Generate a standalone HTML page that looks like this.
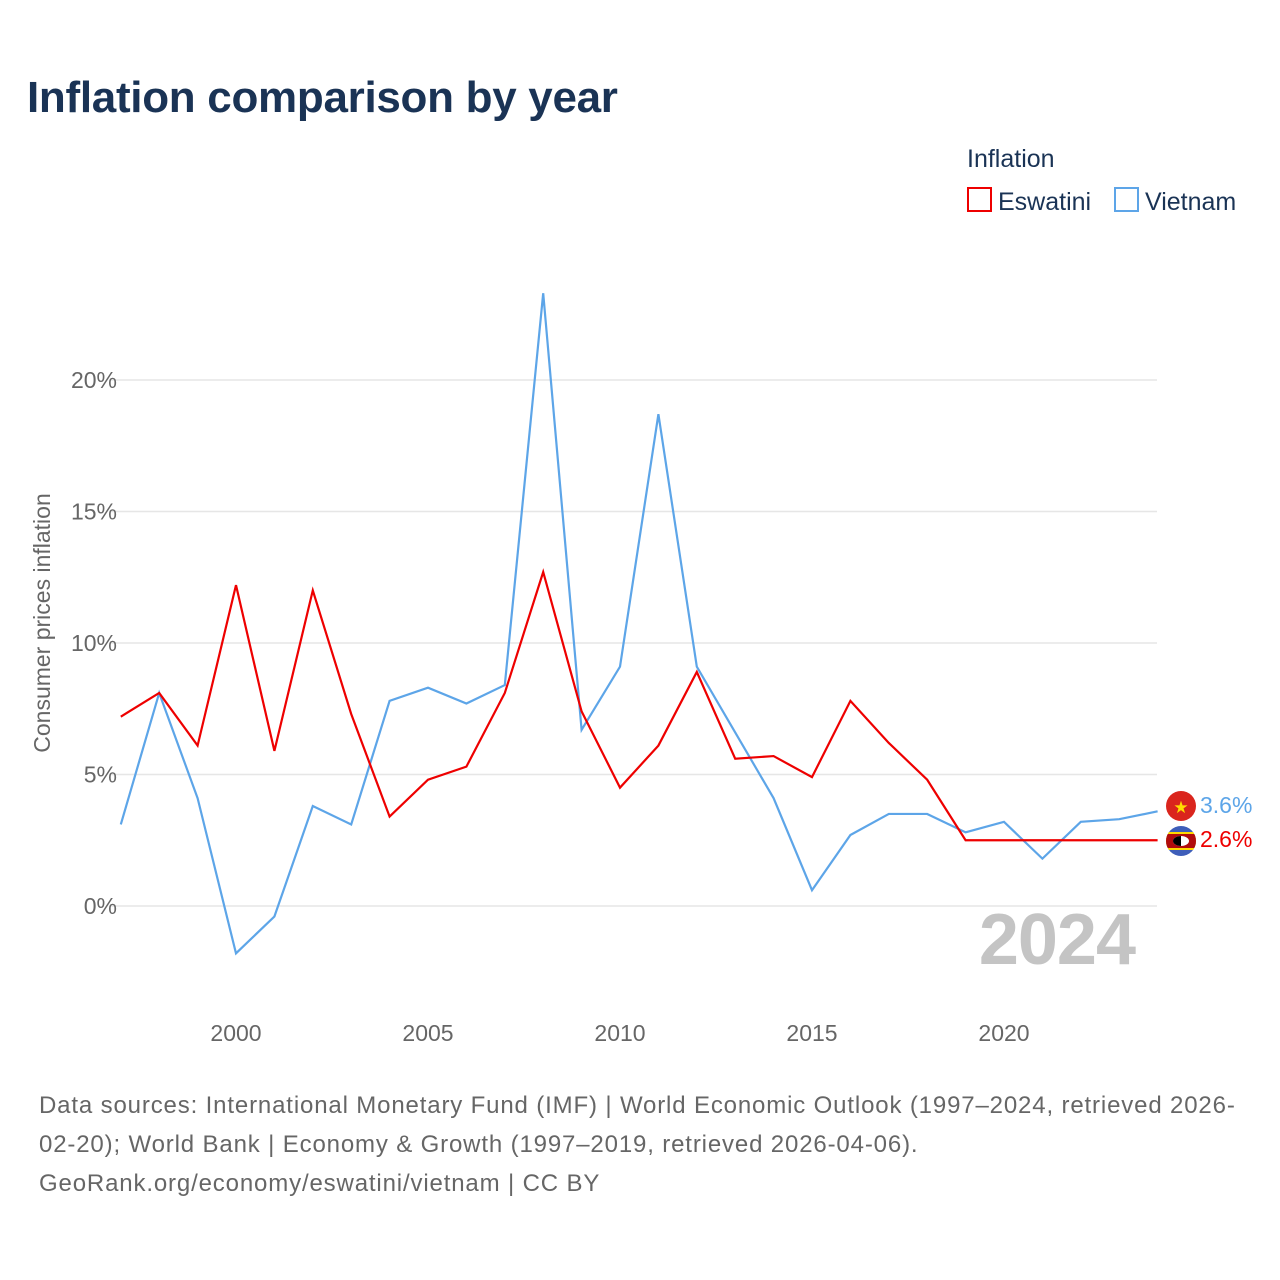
<!DOCTYPE html>
<html><head><meta charset="utf-8"><style>
body{margin:0;background:#fff;font-family:"Liberation Sans",sans-serif;}
#wrap{position:relative;width:1280px;height:1280px;overflow:hidden;}
</style></head><body>
<div id="wrap">
<svg id="chart" width="1280" height="1280" xmlns="http://www.w3.org/2000/svg">
<text x="27" y="112" font-size="44" font-weight="bold" fill="#1a3355" letter-spacing="-0.3">Inflation comparison by year</text>
<text x="967" y="167" font-size="25" fill="#1a3355">Inflation</text>
<g><rect x="968" y="188" width="23" height="23" fill="none" stroke="#ee0000" stroke-width="2"/><text x="998" y="210" font-size="25" fill="#1a3355">Eswatini</text></g>
<g><rect x="1115" y="188" width="23" height="23" fill="none" stroke="#5da5e8" stroke-width="2"/><text x="1145" y="210" font-size="25" fill="#1a3355">Vietnam</text></g>
<g id="grid"></g><g id="xticks"></g><g id="series"></g>
<text transform="translate(50,623) rotate(-90)" text-anchor="middle" font-size="23" fill="#666">Consumer prices inflation</text>
<text x="1135" y="964" text-anchor="end" font-size="72" font-weight="bold" fill="#c4c4c4" letter-spacing="-1">2024</text>
<g><circle cx="1181" cy="806" r="15" fill="#da251d"/><text x="1181" y="813" text-anchor="middle" font-size="17" fill="#ffdd00">★</text></g>
<g><clipPath id="fc"><circle cx="1181" cy="841" r="15"/></clipPath><g clip-path="url(#fc)"><rect x="1166" y="826" width="30" height="30" fill="#3e5eb9"/><rect x="1166" y="832" width="30" height="18" fill="#ffd900"/><rect x="1166" y="834" width="30" height="14" fill="#b10c0c"/><ellipse cx="1181" cy="841" rx="8" ry="5" fill="#fff"/><path d="M1181 836 a8 5 0 0 0 0 10z" fill="#000"/></g></g>
<text x="1200" y="813" font-size="23" fill="#5da5e8">3.6%</text>
<text x="1200" y="847" font-size="23" fill="#ee0000">2.6%</text>
<text font-size="24" fill="#666" letter-spacing="0.85"><tspan x="39" y="1113">Data sources: International Monetary Fund (IMF) | World Economic Outlook (1997–2024, retrieved 2026-</tspan><tspan x="39" y="1152">02-20); World Bank | Economy &amp; Growth (1997–2019, retrieved 2026-04-06).</tspan><tspan x="39" y="1191">GeoRank.org/economy/eswatini/vietnam | CC BY</tspan></text>
</svg>
</div>
<script>
const years=[1997,1998,1999,2000,2001,2002,2003,2004,2005,2006,2007,2008,2009,2010,2011,2012,2013,2014,2015,2016,2017,2018,2019,2020,2021,2022,2023,2024];
const eswatini=[7.2,8.1,6.1,12.2,5.9,12.0,7.3,3.4,4.8,5.3,8.1,12.7,7.4,4.5,6.1,8.9,5.6,5.7,4.9,7.8,6.2,4.8,2.5,2.5,2.5,2.5,2.5,2.5];
const vietnam=[3.1,8.1,4.1,-1.8,-0.4,3.8,3.1,7.8,8.3,7.7,8.4,23.3,6.7,9.1,18.7,9.1,6.6,4.1,0.6,2.7,3.5,3.5,2.8,3.2,1.8,3.2,3.3,3.6];
const yTicks=[0,5,10,15,20];
const xTicks=[2000,2005,2010,2015,2020];
const NS="http://www.w3.org/2000/svg";
function xs(y){return 120.8+(y-1997)*38.4;}
function ys(v){return 906-v*26.3;}
const grid=document.getElementById('grid');
yTicks.forEach(t=>{
 const l=document.createElementNS(NS,'line');
 l.setAttribute('x1',110);l.setAttribute('x2',1157);l.setAttribute('y1',ys(t));l.setAttribute('y2',ys(t));
 l.setAttribute('stroke','#e6e6e6');l.setAttribute('stroke-width',1.5);
 
 
 grid.appendChild(l);
 const tx=document.createElementNS(NS,'text');
 tx.setAttribute('x',117);tx.setAttribute('y',ys(t)+8);tx.setAttribute('text-anchor','end');
 tx.setAttribute('font-size',23);tx.setAttribute('fill','#666');tx.textContent=t+'%';
 
 
 grid.appendChild(tx);
});
const xt=document.getElementById('xticks');
xTicks.forEach(t=>{
 const tx=document.createElementNS(NS,'text');
 tx.setAttribute('x',xs(t));tx.setAttribute('y',1041);tx.setAttribute('text-anchor','middle');
 tx.setAttribute('font-size',23);tx.setAttribute('fill','#666');tx.textContent=t;
 
 
 xt.appendChild(tx);
});
const sg=document.getElementById('series');
[[vietnam,'#5da5e8','vietnam-line'],[eswatini,'#ee0000','eswatini-line']].forEach(([d,c,n])=>{
 const p=document.createElementNS(NS,'polyline');
 p.setAttribute('points',d.map((v,i)=>xs(years[i])+','+ys(v)).join(' '));
 p.setAttribute('fill','none');p.setAttribute('stroke',c);p.setAttribute('stroke-width',2.2);
 
 
 sg.appendChild(p);
});
</script>
</body></html>
